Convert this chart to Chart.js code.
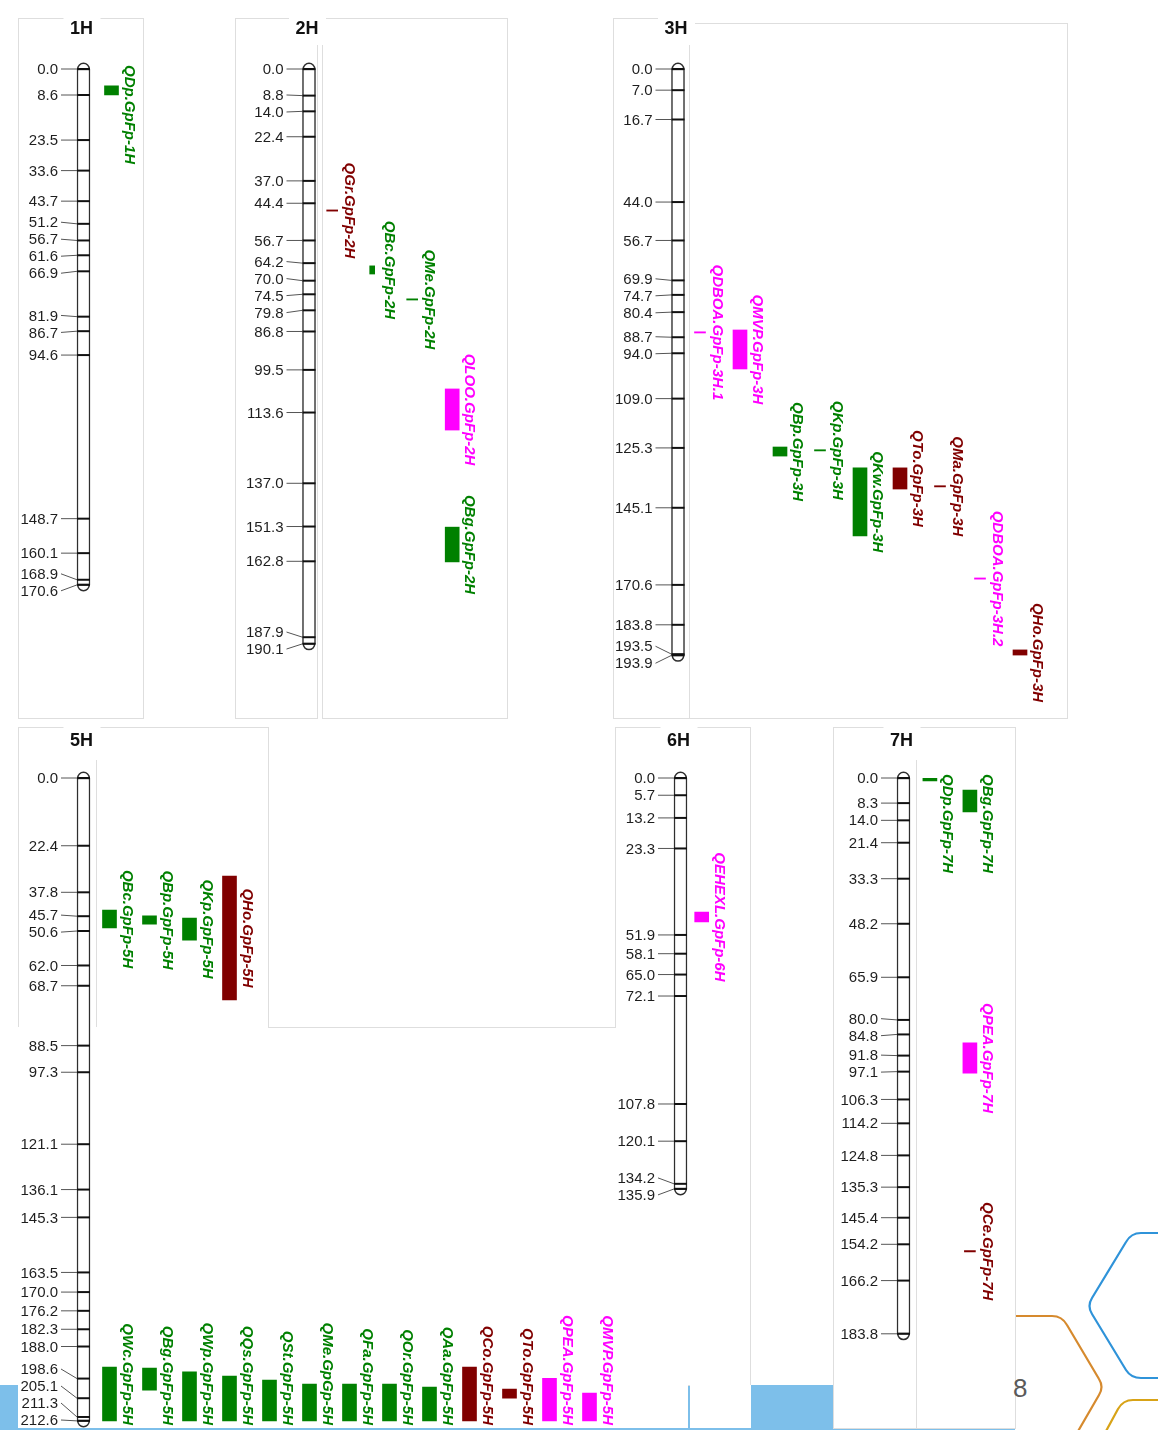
<!DOCTYPE html>
<html>
<head>
<meta charset="utf-8">
<title>QTL map</title>
<script src="https://cdn.jsdelivr.net/npm/chart.js@4.4.1/dist/chart.umd.min.js"></script>
<style>
html,body{margin:0;padding:0;background:#fff;}
#page{position:relative;width:1158px;height:1430px;overflow:hidden;background:#fff;}
.box{position:absolute;background:#fff;box-sizing:border-box;border:1px solid #dedede;}
.rule{position:absolute;background:#dedede;}
.band{position:absolute;background:#7dbfea;}
.white{position:absolute;background:#fff;}
#page canvas{position:absolute;}
#slideNo{position:absolute;left:1013px;top:1373px;font:26px "Liberation Sans",Arial,sans-serif;color:#5a5a5a;}
</style>
</head>
<body>
<div id="page">
  <svg width="1158" height="1430" style="position:absolute;left:0;top:0">
    <g fill="none" stroke-width="2.2" stroke-linejoin="round">
      <path stroke="#2f93d9" d="M1170 1233 L1141 1233 Q1131 1233 1126 1242 L1092 1298 Q1087 1306 1092 1314 L1126 1370 Q1131 1378 1141 1378 L1170 1378"/>
      <path stroke="#d68a2e" d="M1010 1316 L1052 1316 Q1062 1316 1067 1325 L1099 1379 Q1104 1387 1099 1395 L1077 1433"/>
      <path stroke="#d8a317" d="M1105 1433 L1118 1409 Q1123 1400 1133 1400 L1170 1400"/>
    </g>
  </svg>
  <div class="band" style="left:0;top:1385px;width:1015px;height:45px"></div>

  <!-- top row frames -->
  <div class="box" style="left:18px;top:18px;width:126px;height:701px"></div>
  <div class="box" style="left:235px;top:18px;width:83px;height:701px;border-right:none"></div>
  <div class="rule" style="left:317px;top:45px;width:1px;height:674px"></div>
  <div class="box" style="left:322px;top:18px;width:186px;height:701px;border-left:none"></div>
  <div class="rule" style="left:322px;top:45px;width:1px;height:674px"></div>
  <div class="box" style="left:613px;top:18px;width:76px;height:701px;border-right:none"></div>
  <div class="box" style="left:689px;top:23px;width:379px;height:696px;border-left:none"></div>
  <div class="rule" style="left:689px;top:45px;width:1px;height:674px"></div>

  <!-- bottom row frames -->
  <div class="box" style="left:18px;top:727px;width:251px;height:301px"></div>
  <div class="rule" style="left:96px;top:760px;width:1px;height:267px"></div>
  <div class="box" style="left:615px;top:727px;width:136px;height:659px"></div>
  <div class="white" style="left:18px;top:1027px;width:670px;height:401px"></div>
  <div class="rule" style="left:268px;top:1027px;width:348px;height:1px"></div>
  <div class="white" style="left:690px;top:1385px;width:61px;height:43px"></div>
  <div class="box" style="left:833px;top:727px;width:183px;height:702px"></div>
  <div class="rule" style="left:916px;top:760px;width:1px;height:668px"></div>

  <div id="slideNo">8</div>
</div>

<script>
// ---- marker positions (cM) per linkage group ----
const markers1H = [0.0, 8.6, 23.5, 33.6, 43.7, 51.2, 56.7, 61.6, 66.9, 81.9, 86.7, 94.6, 148.7, 160.1, 168.9, 170.6];
const markers2H = [0.0, 8.8, 14.0, 22.4, 37.0, 44.4, 56.7, 64.2, 70.0, 74.5, 79.8, 86.8, 99.5, 113.6, 137.0, 151.3, 162.8, 187.9, 190.1];
const markers3H = [0.0, 7.0, 16.7, 44.0, 56.7, 69.9, 74.7, 80.4, 88.7, 94.0, 109.0, 125.3, 145.1, 170.6, 183.8, 193.5, 193.9];
const markers5H = [0.0, 22.4, 37.8, 45.7, 50.6, 62.0, 68.7, 88.5, 97.3, 121.1, 136.1, 145.3, 163.5, 170.0, 176.2, 182.3, 188.0, 198.6, 205.1, 211.3, 212.6];
const markers6H = [0.0, 5.7, 13.2, 23.3, 51.9, 58.1, 65.0, 72.1, 107.8, 120.1, 134.2, 135.9];
const markers7H = [0.0, 8.3, 14.0, 21.4, 33.3, 48.2, 65.9, 80.0, 84.8, 91.8, 97.1, 106.3, 114.2, 124.8, 135.3, 145.4, 154.2, 166.2, 183.8];

// ---- QTL intervals (cM); start == end means a single peak position ----
const qtl1H = ['QDp.GpFp-1H'];
const qtlStart1H = [5.6];
const qtlEnd1H = [8.6];
const qtlTrait1H = ['green'];

const qtl2H = ['QGr.GpFp-2H', 'QBc.GpFp-2H', 'QMe.GpFp-2H', 'QLOO.GpFp-2H', 'QBg.GpFp-2H'];
const qtlStart2H = [47.0, 65.1, 76.4, 105.8, 151.5];
const qtlEnd2H = [47.0, 67.8, 76.4, 119.4, 163.0];
const qtlTrait2H = ['maroon', 'green', 'green', 'magenta', 'green'];

const qtl3H = ['QDBOA.GpFp-3H.1', 'QMVP.GpFp-3H', 'QBp.GpFp-3H', 'QKp.GpFp-3H', 'QKw.GpFp-3H',
               'QTo.GpFp-3H', 'QMa.GpFp-3H', 'QDBOA.GpFp-3H.2', 'QHo.GpFp-3H'];
const qtlStart3H = [87.3, 86.3, 125.0, 126.3, 131.9, 131.9, 138.2, 168.7, 192.1];
const qtlEnd3H = [87.3, 99.2, 128.0, 126.3, 154.4, 138.9, 138.2, 168.7, 193.8];
const qtlTrait3H = ['magenta', 'magenta', 'green', 'green', 'green', 'maroon', 'maroon', 'magenta', 'maroon'];

const qtl5H = ['QBc.GpFp-5H', 'QBp.GpFp-5H', 'QKp.GpFp-5H', 'QHo.GpFp-5H',
               'QWc.GpFp-5H', 'QBg.GpFp-5H', 'QWp.GpFp-5H', 'QQs.GpFp-5H', 'QSt.GpFp-5H',
               'QMe.GpGp-5H', 'QFa.GpFp-5H', 'QOr.GpFp-5H', 'QAa.GpFp-5H', 'QCo.GpFp-5H',
               'QTo.GpFp-5H', 'QPEA.GpFp-5H', 'QMVP.GpFp-5H'];
const qtlStart5H = [43.7, 45.6, 46.3, 32.4, 194.8, 195.1, 196.4, 197.8, 199.1, 200.4, 200.4, 200.4, 201.4, 194.8, 202.1, 198.5, 203.4];
const qtlEnd5H = [49.6, 48.3, 53.6, 73.4, 212.6, 202.4, 212.6, 212.6, 212.6, 212.6, 212.6, 212.6, 212.6, 212.6, 205.1, 212.6, 212.6];
const qtlTrait5H = ['green', 'green', 'green', 'maroon', 'green', 'green', 'green', 'green', 'green',
                    'green', 'green', 'green', 'green', 'maroon', 'maroon', 'magenta', 'magenta'];

const qtl6H = ['QEHEXL.GpFp-6H'];
const qtlStart6H = [44.3];
const qtlEnd6H = [47.6];
const qtlTrait6H = ['magenta'];

const qtl7H = ['QDp.GpFp-7H', 'QBg.GpFp-7H', 'QPEA.GpFp-7H', 'QCe.GpFp-7H'];
const qtlStart7H = [0.0, 4.0, 87.6, 156.7];
const qtlEnd7H = [1.0, 11.2, 97.6, 156.7];
const qtlTrait7H = ['green', 'green', 'magenta', 'maroon'];

// ---- drawing settings ----
const PX_PER_CM = 3.024;
const TRACK_PX = 40;
const LABEL_GAP = 17;
const CHR_LINE = '#2e2e2e';
const qtlColours = { green: '#008000', maroon: '#800000', magenta: '#ff00ff' };
const FONT = '"Liberation Sans", Arial, sans-serif';

const panels = [
  { id: '1H', markers: markers1H, names: qtl1H, start: qtlStart1H, end: qtlEnd1H, trait: qtlTrait1H,
    box: { left: 18, top: 15, width: 125, height: 703 }, chrX: 83.5, y0: 69, shift: 0.7, tracks: [0] },
  { id: '2H', markers: markers2H, names: qtl2H, start: qtlStart2H, end: qtlEnd2H, trait: qtlTrait2H,
    box: { left: 236, top: 15, width: 271, height: 703 }, chrX: 309, y0: 69, shift: 0.58,
    tracks: [0, 1, 2, 3, 3], narrow: ['QBc.GpFp-2H'] },
  { id: '3H', markers: markers3H, names: qtl3H, start: qtlStart3H, end: qtlEnd3H, trait: qtlTrait3H,
    box: { left: 613, top: 15, width: 454, height: 703 }, chrX: 678, y0: 69, shift: 0.55,
    tracks: [0, 1, 2, 3, 4, 5, 6, 7, 8] },
  { id: '5H', markers: markers5H, names: qtl5H, start: qtlStart5H, end: qtlEnd5H, trait: qtlTrait5H,
    box: { left: 0, top: 727, width: 618, height: 703 }, chrX: 83.5, y0: 778, shift: 0.65,
    tracks: [0, 1, 2, 3, 0, 1, 2, 3, 4, 5, 6, 7, 8, 9, 10, 11, 12] },
  { id: '6H', markers: markers6H, names: qtl6H, start: qtlStart6H, end: qtlEnd6H, trait: qtlTrait6H,
    box: { left: 615, top: 727, width: 135, height: 703 }, chrX: 680.5, y0: 778, shift: 0.53, tracks: [0] },
  { id: '7H', markers: markers7H, names: qtl7H, start: qtlStart7H, end: qtlEnd7H, trait: qtlTrait7H,
    box: { left: 833, top: 727, width: 182, height: 703 }, chrX: 903.5, y0: 778, shift: 0.66, tracks: [0, 1, 1, 1] }
];

// push crowded marker labels apart, keeping each cluster centred on its markers
function spreadLabels(ys, gap, lo, hi) {
  const groups = ys.map(v => ({ n: 1, sum: v, top: v }));
  const place = g => {
    let t = g.sum / g.n - (g.n - 1) * gap / 2;
    t = Math.min(t, hi - (g.n - 1) * gap);
    g.top = Math.max(t, lo);
  };
  let i = 1;
  while (i < groups.length) {
    const a = groups[i - 1], b = groups[i];
    if (b.top - (a.top + (a.n - 1) * gap) < gap) {
      const g = { n: a.n + b.n, sum: a.sum + b.sum };
      place(g);
      groups.splice(i - 1, 2, g);
      i = Math.max(1, i - 1);
    } else {
      i++;
    }
  }
  const out = [];
  groups.forEach(g => { for (let k = 0; k < g.n; k++) out.push(g.top + k * gap); });
  return out;
}

function buildDatasets(p) {
  const sets = [{
    label: p.id,
    data: [{ x: 0, y: [0, p.markers[p.markers.length - 1]] }],
    backgroundColor: '#ffffff',
    borderColor: CHR_LINE,
    borderWidth: 1.5,
    borderSkipped: false,
    barThickness: 13,
    stack: 'lg'
  }];
  const narrow = p.narrow || [];
  p.names.forEach((name, i) => {
    const point = p.start[i] === p.end[i];
    sets.push({
      label: name,
      data: [{ x: p.shift + p.tracks[i], y: [p.start[i], p.end[i]] }],
      backgroundColor: qtlColours[p.trait[i]],
      borderWidth: 0,
      barThickness: point ? 11 : (narrow.includes(name) ? 5 : 14),
      minBarLength: 1.2,
      stack: 'lg'
    });
  });
  return sets;
}

// chromosome caps, marker ticks + labels, group title and rotated QTL names
function mapPlugin(p) {
  return {
    id: 'linkageMap',
    afterDatasetsDraw(chart) {
      const ctx = chart.ctx;
      const yScale = chart.scales.y;
      const chr = chart.getDatasetMeta(0).data[0];
      const half = chr.width / 2;
      const left = chr.x - half, right = chr.x + half;
      const top = Math.min(chr.y, chr.base), bottom = Math.max(chr.y, chr.base);
      ctx.save();

      ctx.strokeStyle = CHR_LINE;
      ctx.lineWidth = 1.5;
      ctx.beginPath(); ctx.arc(chr.x, top, half - 0.75, Math.PI, 2 * Math.PI); ctx.stroke();
      ctx.beginPath(); ctx.arc(chr.x, bottom, half - 0.75, 0, Math.PI); ctx.stroke();

      const ys = p.markers.map(m => yScale.getPixelForValue(m));
      const labY = spreadLabels(ys, LABEL_GAP, top, chart.height - 10);
      const textRight = left - 19;
      ctx.font = '15px ' + FONT;
      ctx.textAlign = 'right';
      ctx.textBaseline = 'middle';
      ys.forEach((py, i) => {
        ctx.strokeStyle = '#555';
        ctx.lineWidth = 1;
        ctx.beginPath(); ctx.moveTo(textRight + 3, labY[i]); ctx.lineTo(left, py); ctx.stroke();
        ctx.strokeStyle = '#111';
        ctx.lineWidth = 2;
        ctx.beginPath(); ctx.moveTo(left, py); ctx.lineTo(right, py); ctx.stroke();
        ctx.fillStyle = '#1e1e1e';
        ctx.fillText(p.markers[i].toFixed(1), textRight, labY[i] + 1);
      });

      // title on a white tab
      ctx.fillStyle = '#fff';
      ctx.fillRect(chr.x - 20, 0, 37, 27);
      ctx.fillStyle = '#111';
      ctx.font = 'bold 18px ' + FONT;
      ctx.textAlign = 'center';
      ctx.fillText(p.id, chr.x - 2, 14);

      ctx.font = 'italic bold 15px ' + FONT;
      ctx.textAlign = 'left';
      ctx.textBaseline = 'alphabetic';
      const minTop = p.y0 - p.box.top - 4;
      p.names.forEach((name, i) => {
        const el = chart.getDatasetMeta(i + 1).data[0];
        const mid = (el.y + el.base) / 2;
        const w = ctx.measureText(name).width;
        let s = Math.min(mid - w / 2, chart.height - 5 - w);
        s = Math.max(s, minTop);
        ctx.save();
        ctx.translate(el.x + 13, s);
        ctx.rotate(Math.PI / 2);
        ctx.fillStyle = qtlColours[p.trait[i]];
        ctx.fillText(name, 0, 0);
        ctx.restore();
      });
      ctx.restore();
    }
  };
}

const page = document.getElementById('page');
panels.forEach(p => {
  const canvas = document.createElement('canvas');
  canvas.width = p.box.width;
  canvas.height = p.box.height;
  canvas.style.left = p.box.left + 'px';
  canvas.style.top = p.box.top + 'px';
  canvas.style.width = p.box.width + 'px';
  canvas.style.height = p.box.height + 'px';
  page.appendChild(canvas);

  const padLeft = p.chrX - TRACK_PX - p.box.left;
  const padTop = p.y0 - p.box.top;
  const xMax = -1 + (p.box.width - padLeft) / TRACK_PX;
  const yMax = (p.box.height - padTop) / PX_PER_CM;

  new Chart(canvas, {
    type: 'bar',
    data: { datasets: buildDatasets(p) },
    options: {
      responsive: false,
      animation: false,
      devicePixelRatio: 1,
      events: [],
      layout: { autoPadding: false, padding: { left: padLeft, right: 0, top: padTop, bottom: 0 } },
      plugins: { legend: { display: false }, tooltip: { enabled: false } },
      scales: {
        x: { type: 'linear', display: false, min: -1, max: xMax, offset: false, bounds: 'data', grid: { display: false } },
        y: { type: 'linear', display: false, min: 0, max: yMax, reverse: true, stacked: false }
      }
    },
    plugins: [mapPlugin(p)]
  });
});
</script>
</body>
</html>
